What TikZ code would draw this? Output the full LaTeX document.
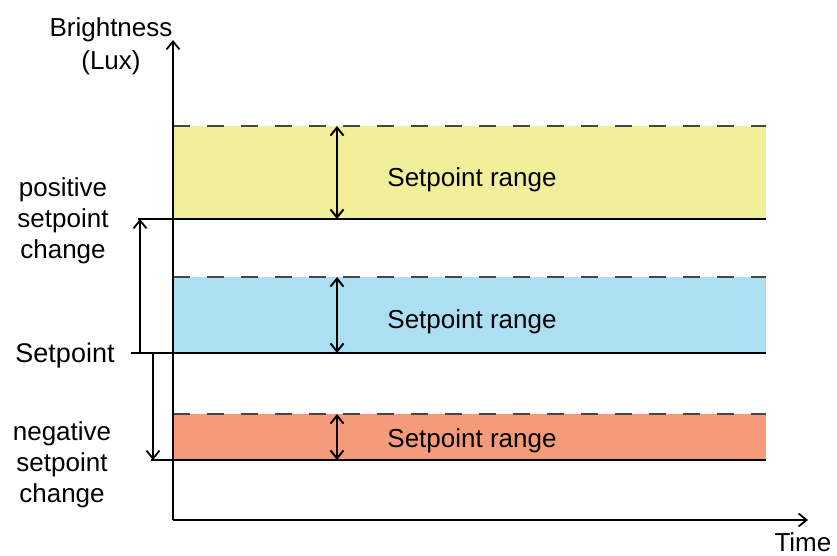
\documentclass[tikz,border=0pt]{standalone}
\usepackage{fontspec}
\setmainfont{Liberation Sans}
\usetikzlibrary{arrows.meta}
\definecolor{bandyellow}{RGB}{242,239,154}
\definecolor{bandblue}{RGB}{173,223,242}
\definecolor{bandorange}{RGB}{246,155,122}
\definecolor{dashgray}{RGB}{70,70,70}
\begin{document}
\begin{tikzpicture}[x=1pt,y=-1pt,line width=1.3pt,
  tip/.style={-{Straight Barb[length=8pt,width=13pt,line width=1.8pt]}},
  dtip/.style={{Straight Barb[length=8pt,width=13pt,line width=2pt]}-{Straight Barb[length=8pt,width=13pt,line width=2pt]}},
  lbl/.style={font=\fontsize{26}{31}\selectfont,align=center,inner sep=0pt},
  rangeline/.style={dashgray,dash pattern=on 17pt off 17pt,line width=1.6pt},
  baseline/.style={black,line width=1.3pt}]
\useasboundingbox (0,0) rectangle (837,556);
% bands
\fill[bandyellow] (173,126) rectangle (766,219);
\fill[bandblue] (173,277) rectangle (766,353);
\fill[bandorange] (173,414) rectangle (766,460);
\coordinate (yt) at (173,126); \coordinate (yte) at (766,126);
\coordinate (yb) at (138,219); \coordinate (ybe) at (766,219);
\coordinate (bt) at (173,277); \coordinate (bte) at (766,277);
\coordinate (bb) at (131,353); \coordinate (bbe) at (766,353);
\coordinate (ot) at (173,414); \coordinate (ote) at (766,414);
\coordinate (ob) at (151,460); \coordinate (obe) at (766,460);
\draw[rangeline] (yt) -- (yte);
\draw[rangeline] (bt) -- (bte);
\draw[rangeline] (ot) -- (ote);
\draw[baseline] (yb) -- (ybe);
\draw[baseline] (bb) -- (bbe);
\draw[baseline] (ob) -- (obe);
% axes
\coordinate (O) at (173,520);
\coordinate (ytop) at (173,40);
\coordinate (xend) at (808,520);
\draw[tip] (O) -- (ytop);
\draw[tip] (O) -- (xend);
% range arrows
\coordinate (r1a) at (337,126); \coordinate (r1b) at (337,219);
\coordinate (r2a) at (337,277); \coordinate (r2b) at (337,353);
\coordinate (r3a) at (337,414); \coordinate (r3b) at (337,460);
\draw[dtip] (r1a) -- (r1b);
\draw[dtip] (r2a) -- (r2b);
\draw[dtip] (r3a) -- (r3b);
% setpoint change arrows
\coordinate (p1) at (140,353); \coordinate (p2) at (140,219);
\coordinate (n1) at (153,353); \coordinate (n2) at (153,460);
\draw[tip] (p1) -- (p2);
\draw[tip] (n1) -- (n2);
% labels
\node[lbl] (sr1) at (472,179.5) {Setpoint range};
\node[lbl] (sr2) at (472,321.5) {Setpoint range};
\node[lbl] (sr3) at (472,440.5) {Setpoint range};
\node[lbl,font=\fontsize{26}{33}\selectfont] (ylab) at (111,46.5) {Brightness\\(Lux)};
\node[lbl] (pos) at (63,220.5) {positive\\setpoint\\change};
\node[lbl,font=\fontsize{27}{31}\selectfont] (sp) at (65,356) {Setpoint};
\node[lbl] (neg) at (62,464.5) {negative\\setpoint\\change};
\node[lbl,anchor=south east] (time) at (832,552) {Time};
\end{tikzpicture}
\end{document}
